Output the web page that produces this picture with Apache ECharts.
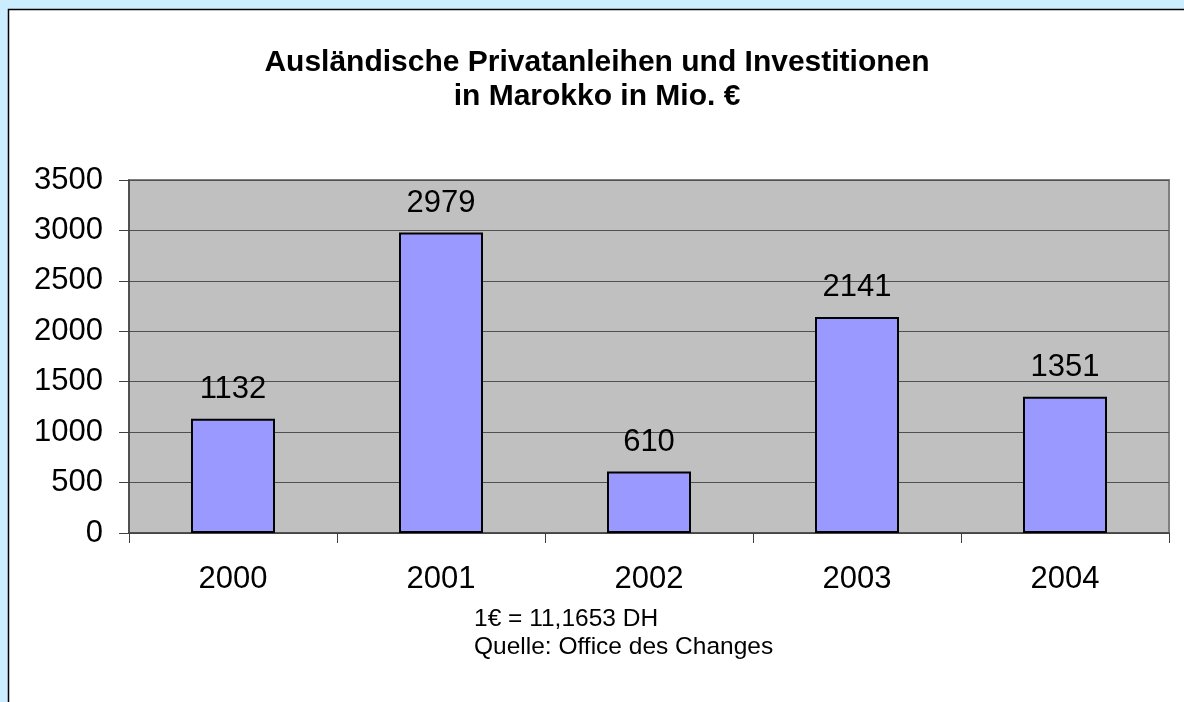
<!DOCTYPE html>
<html>
<head>
<meta charset="utf-8">
<script src="https://cdn.jsdelivr.net/npm/echarts@6/dist/echarts.min.js"></script>
<style>
html,body{margin:0;padding:0;background:#ccecff;}
#chart{width:1184px;height:702px;}
</style>
</head>
<body>
<div id="chart"></div>
<script>
const categories = ['2000', '2001', '2002', '2003', '2004'];
const values = [1132, 2979, 610, 2141, 1351];
const titleLines = ['Ausländische Privatanleihen und Investitionen', 'in Marokko in Mio. €'];
const noteLines = ['1€ = 11,1653 DH', 'Quelle: Office des Changes'];

const FONT = 'Arial, "Liberation Sans", sans-serif';
const chart = echarts.init(document.getElementById('chart'));
chart.setOption({
  backgroundColor: '#ccecff',
  animation: false,
  title: {
    text: titleLines.join('\n'),
    left: 597,
    top: 46,
    padding: 0,
    textAlign: 'center',
    textStyle: { fontFamily: FONT, fontWeight: 'bold', fontSize: 30, lineHeight: 34, color: '#000' }
  },
  graphic: [
    { type: 'rect', z: -10, shape: { x: 8.5, y: 9.5, width: 1200, height: 720 },
      style: { fill: '#ffffff', stroke: '#000000', lineWidth: 1.5 } },
    { type: 'text', x: 474, y: 619, style: { text: noteLines[0], font: '24.5px ' + FONT, fill: '#000', verticalAlign: 'middle', align: 'left' } },
    { type: 'text', x: 474, y: 647, style: { text: noteLines[1], font: '24.5px ' + FONT, fill: '#000', verticalAlign: 'middle', align: 'left' } }
  ],
  grid: {
    left: 129, top: 180, right: 15, bottom: 169,
    show: true, backgroundColor: '#c0c0c0', borderColor: '#808080', borderWidth: 2
  },
  xAxis: {
    type: 'category',
    data: categories,
    axisLine: { show: true, lineStyle: { color: '#404040', width: 1.5 } },
    axisTick: { show: true, length: 10, alignWithLabel: false, lineStyle: { color: '#404040', width: 1 } },
    axisLabel: { fontFamily: FONT, fontSize: 31, color: '#000', margin: 31 },
    splitLine: { show: false }
  },
  yAxis: {
    type: 'value',
    min: 0, max: 3500, interval: 500,
    axisLine: { show: true, lineStyle: { color: '#404040', width: 1.5 } },
    axisTick: { show: true, length: 10, lineStyle: { color: '#404040', width: 1 } },
    axisLabel: { fontFamily: FONT, fontSize: 31, color: '#000', margin: 26, formatter: function (v) { return String(v); } },
    splitLine: { show: true, lineStyle: { color: '#505050', width: 1 } }
  },
  series: [{
    type: 'bar',
    data: values,
    barWidth: 84,
    itemStyle: { color: '#9999ff', borderColor: '#000', borderWidth: 2 },
    label: { show: true, position: 'top', distance: 14, fontFamily: FONT, fontSize: 31, color: '#000' }
  }]
});
</script>
</body>
</html>
